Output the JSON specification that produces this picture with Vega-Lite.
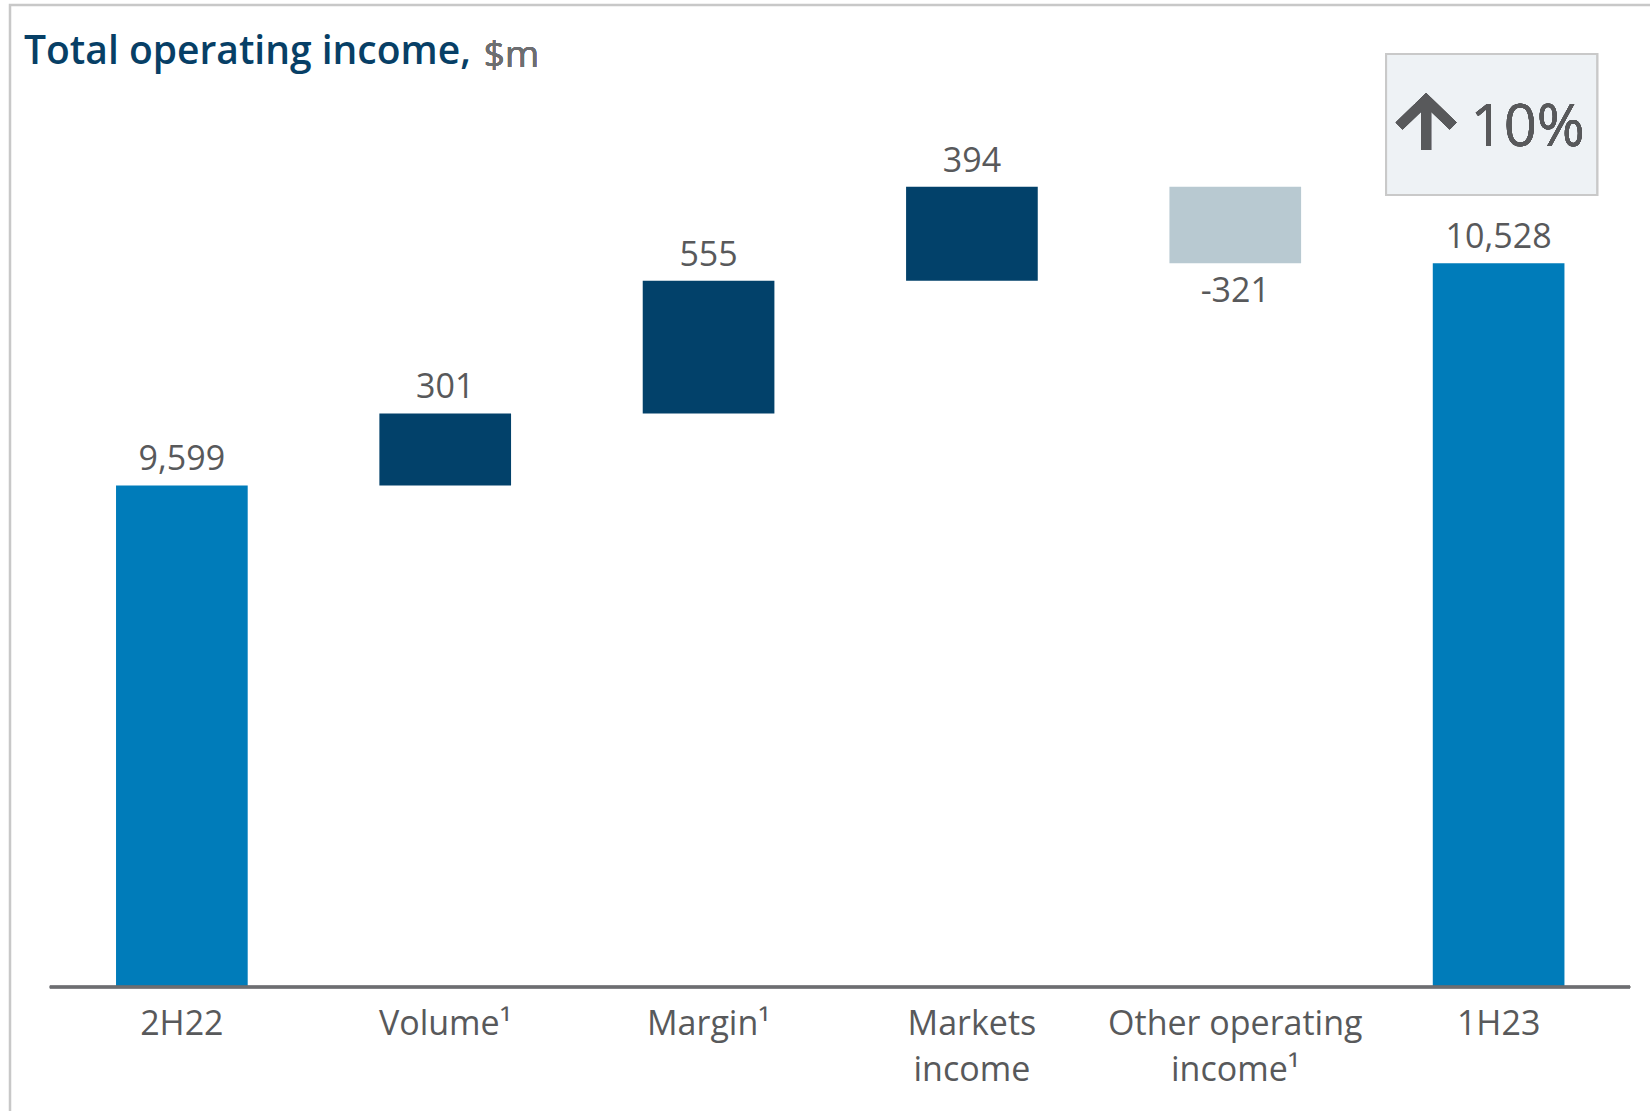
{
  "$schema": "https://vega.github.io/schema/vega-lite/v6.json",
  "width": 1650,
  "height": 1120,
  "autosize": {"type": "none"},
  "padding": {"left": 10, "top": 5, "right": -10, "bottom": -14},
  "background": "white",
  "config": {
    "view": {"stroke": "#c8c8c8", "strokeWidth": 2.5},
    "font": "Open Sans"
  },
  "title": {
    "text": "Total operating income,",
    "anchor": "start",
    "frame": "group",
    "orient": "top",
    "offset": 0,
    "dx": 14,
    "dy": 98,
    "baseline": "alphabetic",
    "font": "Open Sans",
    "fontSize": 39,
    "fontWeight": 600,
    "color": "#073f66"
  },
  "data": {
    "values": [
      {"cat": "2H22", "kind": "total", "amount": 9599},
      {"cat": "Volume¹", "kind": "up", "amount": 301, "from": 9599, "to": 9900},
      {"cat": "Margin¹", "kind": "up", "amount": 555, "from": 9900, "to": 10455},
      {"cat": "Markets income", "kind": "up", "amount": 394, "from": 10455, "to": 10849},
      {"cat": "Other operating income¹", "kind": "down", "amount": -321, "from": 10849, "to": 10528},
      {"cat": "1H23", "kind": "total", "amount": 10528}
    ]
  },
  "transform": [
    {"calculate": "replace(format(datum.amount, ','), '\u2212', '-')", "as": "lbl"},
    {"calculate": "datum.kind == 'total' ? datum.amount : max(datum.from, datum.to)", "as": "top"}
  ],
  "layer": [
    {
      "transform": [{"filter": "datum.kind == 'total'"}],
      "mark": {"type": "bar", "color": "#007cba"},
      "encoding": {
        "x": {
          "field": "cat",
          "type": "nominal",
          "scale": {
            "domain": ["2H22", "Volume¹", "Margin¹", "Markets income", "Other operating income¹", "1H23"],
            "paddingInner": 0.5,
            "paddingOuter": 0.3827,
            "align": 0.526
          },
          "axis": {
            "title": null,
            "domain": false,
            "ticks": false,
            "tickSize": 0,
            "offset": -138,
            "labelPadding": 20,
            "labelAngle": 0,
            "labelFont": "Open Sans",
            "labelFontSize": 34,
            "labelColor": "#58595b",
            "labelLineHeight": 46,
            "labelLimit": 500,
            "labelOverlap": false,
            "labelBound": false,
            "labelFlush": false,
            "labelExpr": "datum.value == 'Markets income' ? ['Markets', 'income'] : datum.value == 'Other operating income¹' ? ['Other operating', 'income¹'] : datum.label"
          }
        },
        "y": {
          "field": "amount",
          "type": "quantitative",
          "scale": {"domain": [6923, 11609], "nice": false, "zero": false},
          "axis": null
        },
        "y2": {"datum": 7500}
      }
    },
    {
      "transform": [{"filter": "datum.kind != 'total'"}],
      "mark": {"type": "bar"},
      "encoding": {
        "x": {"field": "cat", "type": "nominal"},
        "y": {"field": "from", "type": "quantitative"},
        "y2": {"field": "to"},
        "color": {
          "field": "kind",
          "type": "nominal",
          "scale": {"domain": ["up", "down"], "range": ["#02416a", "#b8c9d1"]},
          "legend": null
        }
      }
    },
    {
      "transform": [{"filter": "datum.kind != 'down'"}],
      "mark": {"type": "text", "font": "Open Sans", "fontSize": 34, "color": "#58595b", "align": "center", "baseline": "alphabetic", "dy": -15},
      "encoding": {
        "x": {"field": "cat", "type": "nominal"},
        "y": {"field": "top", "type": "quantitative"},
        "text": {"field": "lbl", "type": "nominal"}
      }
    },
    {
      "transform": [{"filter": "datum.kind == 'down'"}],
      "mark": {"type": "text", "font": "Open Sans", "fontSize": 34, "color": "#58595b", "align": "center", "baseline": "alphabetic", "dy": 39},
      "encoding": {
        "x": {"field": "cat", "type": "nominal"},
        "y": {"field": "to", "type": "quantitative"},
        "text": {"field": "lbl", "type": "nominal"}
      }
    },
    {
      "mark": {"type": "rule", "color": "#6d6e71", "strokeWidth": 2.5, "xOffset": -132, "x2Offset": 131.5},
      "encoding": {
        "x": {"datum": "2H22", "type": "nominal"},
        "x2": {"datum": "1H23"},
        "y": {"datum": 7500, "type": "quantitative"}
      }
    },
    {
      "mark": {"type": "bar", "width": 211, "xOffset": -7, "fill": "#eef2f5", "stroke": "#c9c9c9", "strokeWidth": 2},
      "encoding": {
        "x": {"datum": "1H23", "type": "nominal"},
        "y": {"datum": 11404, "type": "quantitative"},
        "y2": {"datum": 10814}
      }
    },
    {
      "mark": {"type": "point", "shape": "M-1.08,0.04L0,-1L1.08,0.04M0,-1L0,1", "size": 2500, "filled": false, "color": "#58595b", "strokeWidth": 10, "strokeJoin": "miter", "strokeCap": "butt", "opacity": 1, "xOffset": -72.5},
      "encoding": {
        "x": {"datum": "1H23", "type": "nominal"},
        "y": {"datum": 11107, "type": "quantitative"}
      }
    },
    {
      "mark": {"type": "text", "text": "10%", "font": "Open Sans", "fontSize": 58, "color": "#58595b", "align": "center", "baseline": "alphabetic", "dx": 29},
      "encoding": {
        "x": {"datum": "1H23", "type": "nominal"},
        "y": {"datum": 11019, "type": "quantitative"}
      }
    },
    {
      "mark": {"type": "text", "text": "$m", "font": "Open Sans", "fontSize": 37, "color": "#6d6e71", "align": "left", "baseline": "alphabetic", "dx": 302},
      "encoding": {
        "x": {"datum": "2H22", "type": "nominal"},
        "y": {"datum": 11350, "type": "quantitative"}
      }
    }
  ]
}
